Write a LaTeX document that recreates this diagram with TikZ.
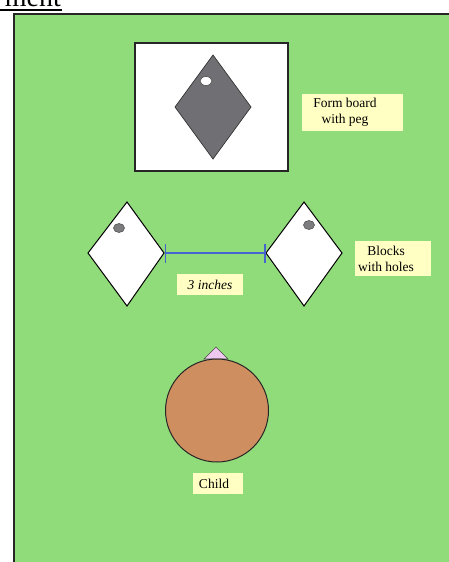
\documentclass[tikz,border=0pt]{standalone}
\usepackage{fontspec}
\setmainfont{Liberation Serif}
\usetikzlibrary{shapes.geometric,arrows.meta}
\definecolor{fieldgreen}{RGB}{145,220,122}
\definecolor{pegray}{RGB}{112,112,116}
\definecolor{holegray}{RGB}{125,125,128}
\definecolor{labelyellow}{RGB}{255,255,196}
\definecolor{measureblue}{RGB}{70,100,205}
\definecolor{childbrown}{RGB}{207,142,96}
\definecolor{noselilac}{RGB}{238,200,238}
\tikzset{
  lbl/.style={font=\fontsize{13.5}{16}\selectfont, align=center, inner sep=0pt},
  lblbox/.style={fill=labelyellow, draw=none},
  block/.style={draw=black, line width=1pt, fill=white},
  hole/.style={draw=black!70, line width=0.6pt}
}
\begin{document}
\begin{tikzpicture}[x=1pt,y=-1pt]
\useasboundingbox (0,0) rectangle (448,562);
% partial heading
\node[anchor=base east, inner sep=0pt, font=\fontsize{28}{30}\selectfont] (head) at (61,6) {ment};
\draw[line width=1.3pt] (0,10) -- (62,10);
% field
\draw[fill=fieldgreen, draw=black!85, line width=2pt] (14,13.5) rectangle (460,580);
% form board
\draw[fill=white, draw=black!85, line width=1.6pt] (135,43) rectangle (288,171);
\draw[fill=pegray, draw=black!80, line width=0.7pt] (213,55) -- (251,107) -- (213,159) -- (175,107) -- cycle;
\draw[fill=white, hole] (206,81) ellipse (6 and 4.5);
\fill[lblbox] (302,94) rectangle (403,131);
\node[lbl] (formlbl) at (345,112.5) {Form board\\with peg};
% blocks
\draw[block] (127,202) -- (164,253) -- (127,306) -- (88,253) -- cycle;
\draw[fill=holegray, hole] (119,228) ellipse (5.5 and 4.5);
\draw[block] (304,202) -- (342,253) -- (304,306) -- (266,253) -- cycle;
\draw[fill=holegray, hole] (309,225) ellipse (5.5 and 4.5);
\coordinate (mA) at (164.5,253);
\coordinate (mB) at (265.5,253);
\draw[measureblue, line width=1.6pt, {Bar[width=19pt]}-{Bar[width=19pt]}] (mA) -- (mB);
\fill[lblbox] (177,274) rectangle (243,295);
\node[lbl, font=\fontsize{13.5}{16}\selectfont\itshape] (inchlbl) at (210,284.5) {3 inches};
\fill[lblbox] (355,241) rectangle (431,276);
\node[lbl] (blocklbl) at (386,258.5) {Blocks\\with holes};
% child
\draw[fill=noselilac, draw=black!70, line width=0.6pt] (216,347) -- (228,359) -- (204,359) -- cycle;
\draw[fill=childbrown, draw=black!85, line width=1pt] (217,410.5) circle (51.5);
\fill[lblbox] (193,473) rectangle (243,494);
\node[lbl] (childlbl) at (214,483.5) {Child};
\end{tikzpicture}
\end{document}
